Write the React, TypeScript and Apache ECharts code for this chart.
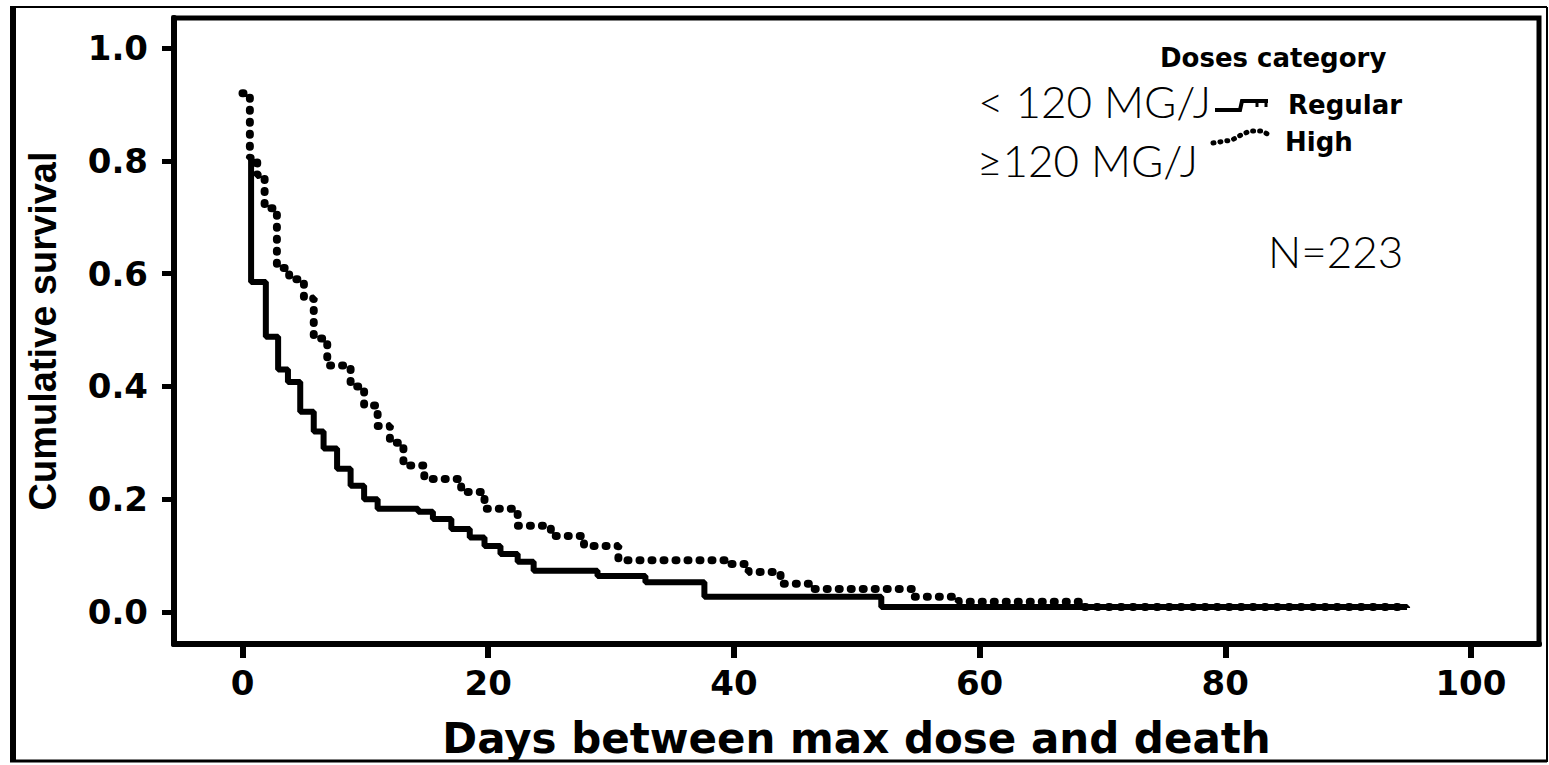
import React, { useEffect, useRef } from "react";
import * as echarts from "echarts";

// Kaplan-Meier step points: time (days) at which survival drops to the given value
const regularDays = [0.6, 0.7, 1.9, 2.9, 3.7, 4.7, 5.8, 6.6, 7.7, 8.8, 9.9, 11, 14.3, 15.5, 17, 18.5, 19.7, 21, 22.4, 23.7, 28.9, 32.8, 37.6, 52, 94.8];
const regularSurvival = [0.805, 0.585, 0.488, 0.43, 0.408, 0.355, 0.32, 0.29, 0.254, 0.224, 0.2, 0.183, 0.178, 0.165, 0.147, 0.132, 0.117, 0.103, 0.089, 0.073, 0.064, 0.053, 0.027, 0.009, 0.007];

const highDays = [0, 0.6, 1.2, 1.8, 2.8, 3.8, 5.0, 5.8, 6.9, 8.8, 9.9, 11, 12, 13.1, 14.8, 17.8, 19.7, 22.4, 25.1, 27.8, 30.6, 39.4, 41.2, 43.8, 46.3, 54.6, 58.3, 68.5, 94.8];
const highSurvival = [0.92, 0.805, 0.775, 0.716, 0.61, 0.59, 0.556, 0.485, 0.437, 0.4, 0.366, 0.33, 0.3, 0.26, 0.236, 0.213, 0.183, 0.153, 0.135, 0.117, 0.092, 0.085, 0.071, 0.05, 0.041, 0.027, 0.018, 0.009, 0.007];

const xTicks = [0, 20, 40, 60, 80, 100];
const yTicks = [0, 0.2, 0.4, 0.6, 0.8, 1.0];

const seriesNames = ["Regular", "High"];
const legendTitle = "Doses category";
const annotations = ["< 120 MG/J", "\u2265120 MG/J", "N=223"];
const xTitle = "Days between max dose and death";
const yTitle = "Cumulative survival";

const BOLD = "DejaVu Sans";
const THIN = "Lato, 'Open Sans', sans-serif";

export default function App() {
  const ref = useRef<HTMLDivElement>(null);
  useEffect(() => {
    if (!ref.current) return;
    const chart = echarts.init(ref.current, undefined, { renderer: "svg" });
    const regularData = regularDays.map((t, i) => [t, regularSurvival[i]]);
    const highData = highDays.map((t, i) => [t, highSurvival[i]]);
    const option: any = {
      animation: false,
      backgroundColor: "#ffffff",
      grid: {
        left: 174,
        top: 18,
        right: 10,
        bottom: 121,
        show: true,
        borderColor: "#000",
        borderWidth: 5,
        backgroundColor: "transparent",
      },
      xAxis: {
        type: "value",
        min: -5.576,
        max: 105.54,
        axisLine: { show: true, onZero: false, lineStyle: { color: "#000", width: 6 } },
        axisTick: { show: true, customValues: xTicks, length: 14, lineStyle: { color: "#000", width: 6 } },
        axisLabel: {
          customValues: xTicks,
          margin: 22,
          fontSize: 34,
          fontWeight: "bold",
          fontFamily: BOLD,
          color: "#000",
        },
        splitLine: { show: false },
        name: xTitle,
        nameLocation: "middle",
        nameGap: 73,
        nameTextStyle: { fontSize: 42, fontWeight: "bold", fontFamily: BOLD, color: "#000" },
      },
      yAxis: {
        type: "value",
        min: -0.0567,
        max: 1.0532,
        axisLine: { show: true, onZero: false, lineStyle: { color: "#000", width: 6 } },
        axisTick: { show: true, customValues: yTicks, length: 12, lineStyle: { color: "#000", width: 5 } },
        axisLabel: {
          customValues: yTicks,
          margin: 26,
          fontSize: 34,
          fontWeight: "bold",
          fontFamily: BOLD,
          color: "#000",
          formatter: (v: number) => v.toFixed(1),
        },
        splitLine: { show: false },
        name: yTitle,
        nameLocation: "middle",
        nameGap: 112,
        nameTextStyle: {
          fontSize: 38,
          fontWeight: "bold",
          fontFamily: "'Liberation Sans', Arial, sans-serif",
          color: "#000",
        },
      },
      series: [
        {
          name: seriesNames[0],
          type: "line",
          step: "end",
          showSymbol: false,
          symbol: "none",
          data: regularData,
          lineStyle: { color: "#000", width: 6 },
          z: 3,
        },
        {
          name: seriesNames[1],
          type: "line",
          step: "end",
          showSymbol: false,
          symbol: "none",
          data: highData,
          lineStyle: { color: "#000", width: 8, type: [1, 11], cap: "round" },
          z: 2,
        },
      ],
      graphic: [
        // outer frame
        { type: "line", shape: { x1: 13, y1: 7, x2: 13, y2: 762 }, style: { stroke: "#000", lineWidth: 6 } },
        { type: "line", shape: { x1: 10, y1: 7, x2: 1547, y2: 7 }, style: { stroke: "#000", lineWidth: 2 } },
        { type: "line", shape: { x1: 10, y1: 761, x2: 1547, y2: 761 }, style: { stroke: "#000", lineWidth: 3 } },
        { type: "line", shape: { x1: 1547, y1: 7, x2: 1547, y2: 762 }, style: { stroke: "#000", lineWidth: 2 } },
        // legend
        {
          type: "text",
          x: 1160,
          y: 58,
          style: { text: legendTitle, font: `bold 26px '${BOLD}'`, fill: "#000", verticalAlign: "middle" },
        },
        {
          type: "text",
          x: 1288,
          y: 105,
          style: { text: seriesNames[0], font: `bold 26px '${BOLD}'`, fill: "#000", verticalAlign: "middle" },
        },
        {
          type: "text",
          x: 1285,
          y: 142,
          style: { text: seriesNames[1], font: `bold 26px '${BOLD}'`, fill: "#000", verticalAlign: "middle" },
        },
        {
          type: "polyline",
          shape: { points: [[1215, 110], [1240, 110], [1242, 101], [1268, 101]] },
          style: { stroke: "#000", lineWidth: 4, fill: "none" },
        },
        { type: "line", shape: { x1: 1257, y1: 101, x2: 1257, y2: 107 }, style: { stroke: "#000", lineWidth: 3 } },
        { type: "line", shape: { x1: 1266, y1: 101, x2: 1266, y2: 107 }, style: { stroke: "#000", lineWidth: 3 } },
        {
          type: "polyline",
          shape: { points: [[1213, 143], [1232, 140], [1241, 135], [1250, 131], [1262, 131], [1271, 136]] },
          style: { stroke: "#000", lineWidth: 5, fill: "none", lineDash: [1, 6], lineCap: "round" },
        },
        // annotations
        {
          type: "text",
          x: 978,
          y: 101,
          style: { text: annotations[0], font: `300 44px ${THIN}`, fill: "#000", verticalAlign: "middle" },
        },
        {
          type: "text",
          x: 977,
          y: 160,
          style: { text: annotations[1], font: `300 44px ${THIN}`, fill: "#000", verticalAlign: "middle" },
        },
        {
          type: "text",
          x: 1268,
          y: 251,
          style: { text: annotations[2], font: `300 44px ${THIN}`, fill: "#000", verticalAlign: "middle" },
        },
      ],
    };
    chart.setOption(option);
    return () => chart.dispose();
  }, []);
  return (
    <div
      ref={ref}
      style={{ position: "absolute", left: 0, top: 0, width: 1549, height: 765 }}
    />
  );
}
